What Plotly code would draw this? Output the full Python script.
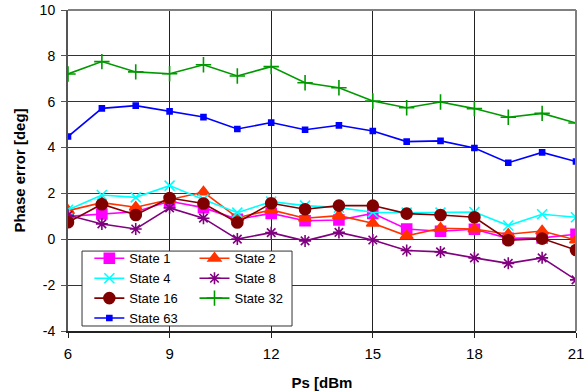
import plotly.graph_objects as go

ps = [6, 7, 8, 9, 10, 11, 12, 13, 14, 15, 16, 17, 18, 19, 20, 21]

state1 = [1.00, 1.10, 1.20, 1.66, 1.38, 0.87, 1.13, 0.81, 0.84, 1.13, 0.45, 0.35, 0.44, 0.04, 0.06, 0.22]
state2 = [1.25, 1.60, 1.40, 1.74, 2.06, 0.94, 1.28, 0.92, 1.03, 0.70, 0.15, 0.48, 0.45, 0.22, 0.36, -0.03]
state4 = [1.28, 1.93, 1.83, 2.34, 1.74, 1.16, 1.64, 1.47, 1.38, 1.18, 1.16, 1.16, 1.19, 0.60, 1.09, 0.96]
state8 = [1.05, 0.67, 0.45, 1.37, 0.92, 0.01, 0.29, -0.07, 0.30, -0.03, -0.49, -0.55, -0.81, -1.05, -0.81, -1.77]
state16 = [0.74, 1.53, 1.06, 1.80, 1.56, 0.73, 1.57, 1.31, 1.47, 1.47, 1.12, 1.06, 0.96, -0.04, 0.03, -0.47]
state32 = [7.21, 7.75, 7.30, 7.22, 7.61, 7.12, 7.53, 6.83, 6.61, 6.03, 5.74, 5.99, 5.70, 5.32, 5.49, 5.07]
state63 = [4.48, 5.71, 5.83, 5.58, 5.33, 4.81, 5.09, 4.78, 4.97, 4.72, 4.26, 4.29, 3.98, 3.34, 3.79, 3.39]

x_ticks = [6, 9, 12, 15, 18, 21]
y_ticks = [-4, -2, 0, 2, 4, 6, 8, 10]

series = [
    ("State 1", state1, "#FF00FF", "square", 10, "legend"),
    ("State 2", state2, "#FF3300", "triangle-up", 11, "legend2"),
    ("State 4", state4, "#00FFFF", "x-thin-open", 10, "legend"),
    ("State 8", state8, "#800080", "asterisk-open", 10, "legend2"),
    ("State 16", state16, "#800000", "circle", 11, "legend"),
    ("State 32", state32, "#009900", "cross-thin-open", 11, "legend2"),
    ("State 63", state63, "#0000FF", "square", 5, "legend"),
]

fig = go.Figure()
for name, vals, color, sym, size, leg in series:
    fig.add_trace(go.Scatter(
        x=ps, y=vals, name=name, mode="lines+markers",
        line=dict(color=color, width=1.6),
        marker=dict(symbol=sym, size=size, color=color,
                    line=dict(color=color, width=1.6)),
        legend=leg,
    ))

font = "Liberation Sans, Arial, sans-serif"

fig.add_shape(type="rect", xref="paper", yref="paper",
              x0=0.0276, x1=0.441, y0=0.0156, y1=0.249,
              fillcolor="white", line=dict(color="#333333", width=1),
              layer="above")

legend_common = dict(
    bgcolor="rgba(0,0,0,0)", borderwidth=0,
    font=dict(family=font, size=13, color="black"),
    xanchor="left", yanchor="top", tracegroupgap=0,
    orientation="v",
)

fig.update_layout(
    width=588, height=392,
    margin=dict(l=68, r=12, t=10, b=61),
    paper_bgcolor="white", plot_bgcolor="white",
    font=dict(family=font, size=14, color="black"),
    showlegend=True,
    legend=dict(x=0.042, y=0.273, **legend_common),
    legend2=dict(x=0.249, y=0.273, **legend_common),
    xaxis=dict(
        range=[6, 21], tickvals=x_ticks, ticktext=[str(v) for v in x_ticks],
        showgrid=True, gridcolor="#222222", gridwidth=1,
        showline=True, linecolor="#222222", linewidth=1.5,
        mirror=False, ticks="outside", ticklen=5, tickcolor="#222222",
        tickfont=dict(size=15), zeroline=False, ticklabelstandoff=3,
        automargin=False,
        title=dict(text="<b>Ps [dBm</b>", font=dict(size=15), standoff=17),
    ),
    yaxis=dict(
        range=[-4, 10], tickvals=y_ticks, ticktext=[str(v) for v in y_ticks],
        showgrid=True, gridcolor="#333333", gridwidth=1,
        showline=True, linecolor="#555555", linewidth=2,
        ticks="outside", ticklen=5, tickcolor="#555555",
        tickfont=dict(size=14), zeroline=False, ticklabelstandoff=3,
        automargin=False,
        title=dict(text="<b>Phase error [deg]</b>", font=dict(size=15), standoff=10),
    ),
)

# frame on top and right
fig.add_shape(type="line", xref="paper", yref="paper", x0=0, x1=1, y0=1, y1=1,
              line=dict(color="#808080", width=2), layer="above")
fig.add_shape(type="line", xref="paper", yref="paper", x0=1, x1=1, y0=0, y1=1,
              line=dict(color="#808080", width=2), layer="above")

fig.write_html("out.html")
